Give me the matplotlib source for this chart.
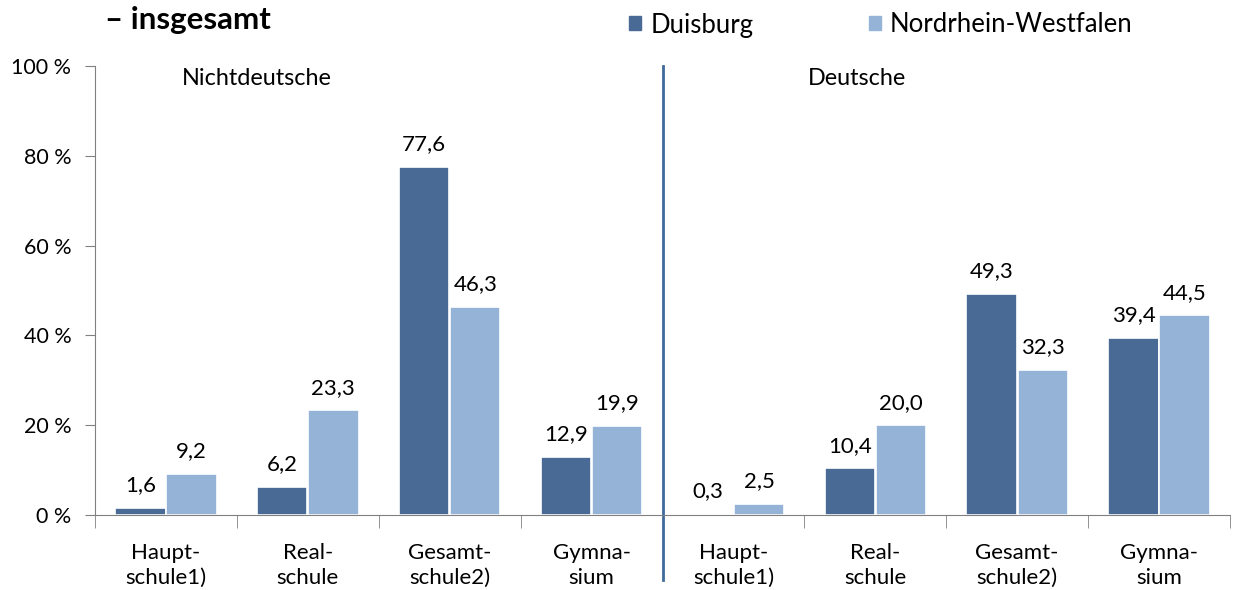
import numpy as np
import matplotlib.pyplot as plt
from matplotlib.patches import Patch

plt.rcParams['font.family'] = ['Lato', 'DejaVu Sans']

categories = ["Haupt-\nschule1)", "Real-\nschule", "Gesamt-\nschule2)", "Gymna-\nsium",
              "Haupt-\nschule1)", "Real-\nschule", "Gesamt-\nschule2)", "Gymna-\nsium"]
duisburg = [1.6, 6.2, 77.6, 12.9, 0.3, 10.4, 49.3, 39.4]
nrw = [9.2, 23.3, 46.3, 19.9, 2.5, 20.0, 32.3, 44.5]
groups = ["Nichtdeutsche", "Deutsche"]

c_dui = "#4a6a96"
c_nrw = "#95b3d7"

fig = plt.figure(figsize=(12.34, 5.9), dpi=100)
ax = fig.add_axes([95/1234, 1-515/590, (1230-95)/1234, (515-66)/590])

x = np.arange(len(categories))
w = 0.355
b1 = ax.bar(x - 0.18, duisburg, w, color=c_dui, edgecolor="white", linewidth=1.2)
b2 = ax.bar(x + 0.18, nrw, w, color=c_nrw, edgecolor="white", linewidth=1.2)

for bars, vals in ((b1, duisburg), (b2, nrw)):
    for r, v in zip(bars, vals):
        ax.text(r.get_x() + r.get_width()/2, v + 2.8, f"{v:.1f}".replace(".", ","),
                ha="center", va="bottom", fontsize=16)

ax.set_xlim(-0.5, 7.5)
ax.set_ylim(0, 100)
ax.set_yticks([0, 20, 40, 60, 80, 100])
ax.set_yticklabels([f"{t} %" for t in [0, 20, 40, 60, 80, 100]], fontsize=15.5)
ax.set_xticks(x)
ax.set_xticklabels(categories, fontsize=16, linespacing=1.3)
ax.set_xticks(np.arange(-0.5, 8, 1), minor=True)
ax.tick_params(axis="x", which="major", length=0, pad=20)
ax.tick_params(axis="x", which="minor", length=9, color="#808080", direction="out")
ax.tick_params(axis="y", length=7, color="#808080", pad=10)

for s in ("top", "right"):
    ax.spines[s].set_visible(False)
for s in ("left", "bottom"):
    ax.spines[s].set_color("#808080")

ax.axvline(3.5, ymin=-0.145, ymax=1.0, color="#3f6a9a", linewidth=2, clip_on=False)

ax.text(0.64, 97.3, groups[0], ha="center", va="center", fontsize=16.8)
ax.text(4.87, 97.3, groups[1], ha="center", va="center", fontsize=16.8)

fig.text(105/1234, 1-20/590, "– insgesamt", fontsize=22.5, fontweight="bold",
         ha="left", va="center")

handles = [Patch(color=c_dui, label="Duisburg"), Patch(color=c_nrw, label="Nordrhein-Westfalen")]
fig.legend(handles=handles, loc="center", bbox_to_anchor=(881/1234, 1-25/590), ncol=2,
           frameon=False, fontsize=18.5, handlelength=0.47, handleheight=0.47,
           handletextpad=0.35, columnspacing=4.5, borderpad=0)

fig.savefig("out.png", dpi=100)
